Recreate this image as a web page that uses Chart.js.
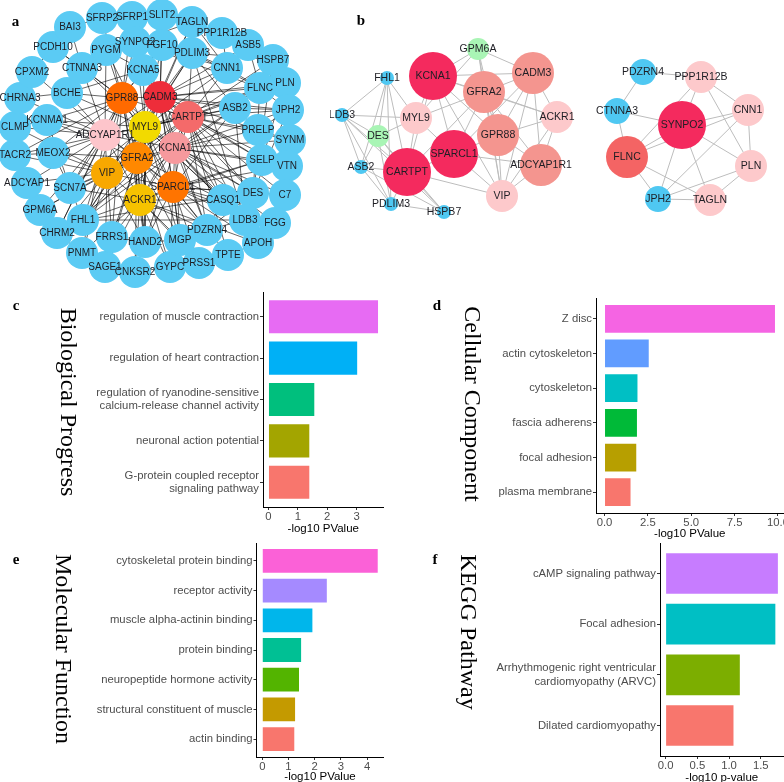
<!DOCTYPE html>
<html>
<head>
<meta charset="utf-8">
<script src="https://cdn.jsdelivr.net/npm/chart.js@4.4.1/dist/chart.umd.min.js"></script>
<style>
  html, body { margin: 0; padding: 0; background: #fff; }
  body { width: 784px; height: 782px; position: relative; overflow: hidden; }
  .panel { position: absolute; }
  .panel canvas { display: block; }
</style>
</head>
<body>
<div class="panel" style="left:0;top:0"><canvas id="netA" width="330" height="290"></canvas></div>
<div class="panel" style="left:330px;top:0"><canvas id="netB" width="454" height="290"></canvas></div>
<div class="panel" style="left:0;top:268px"><canvas id="barC" width="392" height="268"></canvas></div>
<div class="panel" style="left:392px;top:270px"><canvas id="barD" width="430" height="271"></canvas></div>
<div class="panel" style="left:0;top:520px"><canvas id="barE" width="392" height="264"></canvas></div>
<div class="panel" style="left:392px;top:520px"><canvas id="barF" width="430" height="265"></canvas></div>

<script>
// ---------- panel a: PPI network of DEGs (layout coordinates) ----------
const aNames = [
  'SFRP2','SFRP1','SLIT2','TAGLN','PPP1R12B','ASB5','HSPB7','PLN','JPH2','SYNM','VTN','C7','FGG','APOH',
  'TPTE','PRSS1','GYPC','CNKSR2','SAGE1','PNMT','CHRM2','GPM6A','ADCYAP1','TACR2','CLMP','CHRNA3','CPXM2',
  'PCDH10','BAI3',
  'PYGM','SYNPO2','FGF10','PDLIM3','CNN1','FLNC','ASB2','PRELP','SELP','DES','CASQ1','LDB3','PDZRN4','MGP',
  'HAND2','FRRS1','FHL1','SCN7A','MEOX2','KCNMA1','BCHE','CTNNA3','KCNA5',
  'GPR88','CADM3','CARTPT','MYL9','ADCYAP1R1','KCNA1','GFRA2','VIP','SPARCL1','ACKR1'
];
const aX = [102,132,162,192,222,248,273,285,288,290,287,285,275,258,
  228,199,170,135,105,82,57,40,27,15,15,20,32,
  53,70,
  106,135,162,192,227,260,235,258,262,253,223,245,207,180,
  145,112,83,70,53,47,67,82,143,
  122,160,188,145,105,175,137,107,173,140];
const aY = [18,17,15,22,33,45,60,83,110,140,166,195,223,243,
  255,263,267,272,267,253,233,210,183,155,127,98,72,
  47,27,
  50,42,45,53,68,88,108,130,160,193,200,220,230,240,
  242,237,220,188,153,120,93,68,70,
  98,97,117,127,135,148,158,173,187,200];
const aHubs = ['GPR88','CADM3','CARTPT','MYL9','ADCYAP1R1','KCNA1','GFRA2','VIP','SPARCL1','ACKR1'];
const aEdges = [
  'GPR88: KCNA5 PYGM CTNNA3 BCHE KCNMA1 SFRP2 SFRP1 SYNPO2 FGF10 MEOX2 SCN7A FHL1 FRRS1 HAND2 CADM3 MYL9 ADCYAP1R1 GFRA2 VIP ACKR1 SPARCL1 CARTPT KCNA1 CHRM2 TACR2 PCDH10',
  'CADM3: KCNA5 FGF10 PDLIM3 CNN1 SLIT2 TAGLN ASB2 FLNC PRELP SELP CASQ1 DES MGP PDZRN4 MYL9 CARTPT KCNA1 GFRA2 SPARCL1 VIP ACKR1 ADCYAP1R1 PLN JPH2 ASB5',
  'CARTPT: ASB2 FLNC CNN1 PDLIM3 HSPB7 JPH2 PLN SYNM PRELP SELP VTN DES CASQ1 LDB3 PDZRN4 MYL9 KCNA1 SPARCL1 GFRA2 ACKR1 VIP ADCYAP1R1 FHL1 TPTE C7',
  'MYL9: SYNPO2 PYGM KCNA5 PDLIM3 CNN1 FLNC ASB2 DES LDB3 CASQ1 FHL1 HAND2 MGP KCNA1 GFRA2 VIP SPARCL1 ACKR1 ADCYAP1R1 SCN7A KCNMA1 BCHE TAGLN CTNNA3',
  'ADCYAP1R1: KCNMA1 MEOX2 BCHE CTNNA3 CLMP TACR2 ADCYAP1 CHRNA3 SCN7A GPM6A CHRM2 PNMT GFRA2 VIP ACKR1 KCNA1 SPARCL1 PYGM CPXM2',
  'KCNA1: SELP PRELP ASB2 SYNM VTN DES CASQ1 LDB3 PDZRN4 MGP FGG C7 APOH GFRA2 SPARCL1 VIP ACKR1 HAND2 KCNA5 CHRM2 JPH2',
  'GFRA2: SCN7A FHL1 FRRS1 HAND2 MGP PDZRN4 MEOX2 KCNMA1 VIP ACKR1 SPARCL1 CASQ1 GPM6A CNKSR2 SAGE1 GYPC FGF10',
  'VIP: SCN7A MEOX2 FHL1 GPM6A CHRM2 ADCYAP1 PNMT FRRS1 HAND2 ACKR1 SPARCL1 TACR2 CLMP SAGE1',
  'SPARCL1: CASQ1 DES LDB3 PDZRN4 MGP HAND2 TPTE APOH FGG PRSS1 GYPC ACKR1 SELP C7 VTN ASB2',
  'ACKR1: HAND2 MGP FRRS1 FHL1 SCN7A CNKSR2 GYPC SAGE1 PDZRN4 CASQ1 PRSS1 PNMT APOH SELP',
  'FLNC: HSPB7 PLN ASB2 CNN1 SYNPO2 DES ASB5 JPH2 PDLIM3',
  'ASB5: HSPB7 PLN TAGLN', 'PLN: JPH2 SELP HSPB7', 'JPH2: ASB2 DES PRELP',
  'CNN1: PDLIM3 TAGLN PPP1R12B SYNPO2', 'SYNPO2: PDLIM3 TAGLN PYGM', 'PCDH10: CTNNA3 CPXM2',
  'CHRNA3: CPXM2 CLMP BCHE', 'CLMP: KCNMA1', 'GPM6A: CHRM2 ADCYAP1', 'CHRM2: PNMT FHL1', 'PNMT: SAGE1',
  'FGG: APOH LDB3', 'APOH: TPTE', 'DES: LDB3 CASQ1 PDZRN4', 'LDB3: PDZRN4 ASB2', 'C7: VTN',
  'SELP: VTN PRELP', 'PRELP: SYNM ASB2', 'SYNM: VTN', 'SFRP2: SFRP1 BAI3', 'SFRP1: SLIT2',
  'CASQ1: PDZRN4', 'HAND2: MGP FRRS1', 'MGP: GYPC', 'GYPC: PRSS1 CNKSR2', 'PRSS1: TPTE', 'FRRS1: SAGE1',
  'SCN7A: FHL1 KCNMA1 MEOX2', 'MEOX2: TACR2', 'CTNNA3: BAI3', 'KCNA5: FGF10 PYGM BCHE', 'SLIT2: FGF10',
  'TACR2: ADCYAP1', 'PDLIM3: LDB3 HSPB7 ASB2 FHL1', 'HSPB7: ASB2 DES', 'FHL1: DES LDB3 ASB2'
];

// ---------- panel b: two modules ----------
const bNames = ['GPM6A','KCNA1','CADM3','GFRA2','FHL1','LDB3','MYL9','ACKR1','DES','GPR88','ASB2','SPARCL1',
  'CARTPT','ADCYAP1R1','VIP','PDLIM3','HSPB7',
  'PDZRN4','PPP1R12B','CTNNA3','SYNPO2','CNN1','FLNC','PLN','JPH2','TAGLN'];
const bX = [478,433,533,484,387,342,416,557,378,498,361,454,407,541,502,391,444,
  643,701,617,682,748,627,751,658,710];
const bY = [49,76,73,92,78,115,118,117,136,135,167,154,172,165,196,204,212,
  72,77,111,125,110,157,166,199,200];
const bRank = [2,6,4,4,0,0,3,3,2,4,0,6,6,4,3,0,0,
  1,3,1,6,3,5,3,1,3];
const bEdges = [
  'GPM6A: KCNA1 GFRA2 CADM3 MYL9 VIP GPR88',
  'KCNA1: CADM3 GFRA2 ACKR1 GPR88 SPARCL1 CARTPT MYL9 VIP',
  'FHL1: LDB3 DES ASB2 PDLIM3 MYL9 CARTPT',
  'LDB3: MYL9 DES ASB2 PDLIM3 HSPB7 CARTPT',
  'DES: ASB2 PDLIM3 HSPB7 MYL9 CARTPT',
  'ASB2: PDLIM3 HSPB7 CARTPT', 'PDLIM3: HSPB7 CARTPT', 'HSPB7: CARTPT',
  'CARTPT: MYL9 SPARCL1 VIP GFRA2',
  'MYL9: GFRA2 SPARCL1',
  'SPARCL1: GFRA2 GPR88 ADCYAP1R1 VIP CADM3',
  'GFRA2: CADM3 ACKR1 GPR88 ADCYAP1R1 VIP',
  'CADM3: ACKR1 GPR88 ADCYAP1R1 VIP',
  'ACKR1: GPR88 ADCYAP1R1 VIP', 'GPR88: ADCYAP1R1 VIP', 'ADCYAP1R1: VIP',
  'PDZRN4: PPP1R12B CTNNA3', 'CTNNA3: SYNPO2 FLNC',
  'PPP1R12B: SYNPO2 CNN1 PLN FLNC',
  'SYNPO2: CNN1 FLNC JPH2 TAGLN PLN',
  'CNN1: PLN FLNC JPH2', 'FLNC: JPH2 TAGLN', 'JPH2: TAGLN PLN', 'PLN: TAGLN'
];

// ---------- panels c-f: enrichment bars ----------
const cTerms = ['regulation of muscle contraction', 'regulation of heart contraction',
  ['regulation of ryanodine-sensitive', 'calcium-release channel activity'],
  'neuronal action potential', ['G-protein coupled receptor', 'signaling pathway']];
const cValues = [3.73, 3.02, 1.56, 1.39, 1.39];
const cTicks = [0, 1, 2, 3];
const cTickLabels = ['0', '1', '2', '3'];

const dTerms = ['Z disc', 'actin cytoskeleton', 'cytoskeleton', 'fascia adherens', 'focal adhesion', 'plasma membrane'];
const dValues = [9.83, 2.55, 1.9, 1.87, 1.83, 1.5];
const dTicks = [0, 2.5, 5, 7.5, 10];
const dTickLabels = ['0.0', '2.5', '5.0', '7.5', '10.0'];

const eTerms = ['cytoskeletal protein binding', 'receptor activity', 'muscle alpha-actinin binding', 'protein binding',
  'neuropeptide hormone activity', 'structural constituent of muscle', 'actin binding'];
const eValues = [4.4, 2.46, 1.91, 1.48, 1.4, 1.25, 1.22];
const eTicks = [0, 1, 2, 3, 4];
const eTickLabels = ['0', '1', '2', '3', '4'];

const fTerms = ['cAMP signaling pathway', 'Focal adhesion',
  ['Arrhythmogenic right ventricular', 'cardiomyopathy (ARVC)'], 'Dilated cardiomyopathy'];
const fValues = [1.77, 1.73, 1.17, 1.07];
const fTicks = [0, 0.5, 1, 1.5];
const fTickLabels = ['0.0', '0.5', '1.0', '1.5'];

// ---------- styling ----------
const SANS = '"Liberation Sans", Arial, sans-serif';
const SERIF = '"Liberation Serif", "Times New Roman", serif';
const RING_BLUE = '#5BCBF4';
const hubColor = {
  GPR88: '#FF6A00', CADM3: '#EE2D3A', CARTPT: '#F46A6A', MYL9: '#F2DA00', ADCYAP1R1: '#FDC5CB',
  KCNA1: '#F6999D', GFRA2: '#FF8800', VIP: '#F8A800', SPARCL1: '#FF7400', ACKR1: '#F6C200'
};
const rankRadius = [7, 13, 11, 16, 21, 21, 24];
const rankColor = ['#4FC8F2', '#4FC8F2', '#A9F5B5', '#FDC9CB', '#F4958F', '#F46464', '#F42A5E'];

Chart.defaults.font.family = SANS;

function parseEdges(list) {
  const out = [];
  list.forEach(s => {
    const [from, rest] = s.split(':');
    rest.trim().split(/\s+/).forEach(to => out.push([from.trim(), to]));
  });
  return out;
}

function decoPlugin(letter, lx, ly, title, tx, ty) {
  return {
    id: 'deco',
    afterDraw(chart) {
      const ctx = chart.ctx;
      ctx.save();
      ctx.fillStyle = '#000';
      ctx.textAlign = 'center';
      ctx.textBaseline = 'middle';
      ctx.font = 'bold 15px ' + SERIF;
      ctx.fillText(letter, lx, ly);
      if (title) {
        ctx.translate(tx, ty);
        ctx.rotate(Math.PI / 2);
        ctx.font = '24px ' + SERIF;
        ctx.fillText(title, 0, 0);
      }
      ctx.restore();
    }
  };
}

function netChart(id, names, xs, ys, radii, colors, edges, xr, yr, edgeColor, edgeWidth, fontPx, deco) {
  const idx = {};
  names.forEach((n, i) => { idx[n] = i; });
  const pts = names.map((n, i) => ({ x: xs[i], y: ys[i] }));
  const seg = [];
  parseEdges(edges).forEach(([a, b]) => {
    const p = pts[idx[a]], q = pts[idx[b]];
    seg.push({ x: p.x, y: p.y }, { x: q.x, y: q.y }, { x: null, y: null });
  });
  const labels = {
    id: 'nodeLabels',
    afterDatasetsDraw(chart) {
      const ctx = chart.ctx;
      const meta = chart.getDatasetMeta(0);
      ctx.save();
      ctx.font = fontPx + 'px ' + SANS;
      ctx.fillStyle = '#1E1E24';
      ctx.textAlign = 'center';
      ctx.textBaseline = 'middle';
      meta.data.forEach((el, i) => ctx.fillText(names[i], el.x, el.y + 0.5));
      ctx.restore();
    }
  };
  return new Chart(document.getElementById(id), {
    type: 'scatter',
    data: {
      datasets: [
        { data: pts, pointRadius: radii, pointHoverRadius: radii, backgroundColor: colors, borderWidth: 0, clip: false },
        { type: 'line', data: seg, borderColor: edgeColor, borderWidth: edgeWidth, pointRadius: 0,
          spanGaps: false, fill: false, tension: 0, clip: false }
      ]
    },
    options: {
      responsive: false, animation: false, events: [],
      layout: { padding: 0, autoPadding: false },
      plugins: { legend: { display: false }, tooltip: { enabled: false } },
      scales: {
        x: { type: 'linear', min: xr[0], max: xr[1], display: false },
        y: { type: 'linear', min: yr[0], max: yr[1], reverse: true, display: false }
      }
    },
    plugins: [labels, deco]
  });
}

function barChart(id, terms, values, colors, ticks, tickLabels, xTitle, box, deco) {
  const M = Math.max(...values);
  const tickFont = { family: SANS, size: 11.3, lineHeight: 1.2 };
  return new Chart(document.getElementById(id), {
    type: 'bar',
    data: {
      datasets: [{
        data: values.map((v, i) => ({ x: v, y: i + 1 })),
        backgroundColor: colors, borderWidth: 0,
        categoryPercentage: 1, barPercentage: 0.8
      }]
    },
    options: {
      indexAxis: 'y',
      responsive: false, animation: false, events: [],
      layout: { padding: { top: box.top, right: box.w - box.right, bottom: 0, left: 0 } },
      plugins: { legend: { display: false }, tooltip: { enabled: false } },
      scales: {
        x: {
          type: 'linear', min: -0.05 * M, max: 1.05 * M, offset: false,
          afterBuildTicks: s => { s.ticks = ticks.map(v => ({ value: v })); },
          afterFit: s => { s.height = box.h - box.bottom; },
          ticks: { callback: (v, i) => tickLabels[i], color: '#4D4D4D', font: tickFont,
            padding: 0, maxRotation: 0, autoSkip: false },
          grid: { display: true, drawOnChartArea: false, drawTicks: true, tickLength: 3, color: '#333', offset: false },
          border: { display: true, color: '#000', width: 1 },
          title: { display: true, text: xTitle, color: '#000', font: { family: SANS, size: 11.5 }, padding: 0 }
        },
        y: {
          type: 'linear', reverse: true, min: 0.4, max: terms.length + 0.6, offset: false,
          afterBuildTicks: s => { s.ticks = terms.map((t, i) => ({ value: i + 1 })); },
          afterFit: s => { s.width = box.left; },
          ticks: { callback: (v, i) => terms[i], color: '#4D4D4D', font: tickFont, padding: 1, autoSkip: false },
          grid: { display: true, drawOnChartArea: false, drawTicks: true, tickLength: 3, color: '#333', offset: false },
          border: { display: true, color: '#000', width: 1 }
        }
      }
    },
    plugins: [deco]
  });
}

// ---------- build ----------
netChart('netA', aNames, aX, aY,
  aNames.map(() => 16),
  aNames.map(n => hubColor[n] || RING_BLUE),
  aEdges, [0, 330], [0, 290], 'rgba(0,0,0,0.8)', 0.75, 10,
  decoPlugin('a', 15.5, 22, null));

netChart('netB', bNames, bX, bY,
  bRank.map(r => rankRadius[r]),
  bRank.map(r => rankColor[r]),
  bEdges, [330, 784], [0, 290], '#BDBDBD', 1, 10.5,
  decoPlugin('b', 31, 21, null));

barChart('barC', cTerms, cValues, ['#E76BF3', '#00B0F6', '#00BF7D', '#A3A500', '#F8766D'],
  cTicks, cTickLabels, '-log10 PValue',
  { w: 392, h: 268, left: 263, top: 24, right: 383.5, bottom: 239 },
  decoPlugin('c', 16, 38, 'Biological Progress', 67, 134));

barChart('barD', dTerms, dValues, ['#F564E3', '#619CFF', '#00BFC4', '#00BA38', '#B79F00', '#F8766D'],
  dTicks, dTickLabels, '-log10 PValue',
  { w: 430, h: 271, left: 204, top: 28, right: 391.5, bottom: 243 },
  decoPlugin('d', 45, 36, 'Cellular Component', 79, 134));

barChart('barE', eTerms, eValues, ['#FB61D7', '#A58AFF', '#00B6EB', '#00C094', '#53B400', '#C49A00', '#F8766D'],
  eTicks, eTickLabels, '-log10 PValue',
  { w: 392, h: 264, left: 256.5, top: 23, right: 383.5, bottom: 237 },
  decoPlugin('e', 16, 40, 'Molecular Function', 62.5, 129));

barChart('barF', fTerms, fValues, ['#C77CFF', '#00BFC4', '#7CAE00', '#F8766D'],
  fTicks, fTickLabels, '-log10 p-value',
  { w: 430, h: 265, left: 268, top: 23, right: 391.5, bottom: 236 },
  decoPlugin('f', 43, 40, 'KEGG Pathway', 75, 112));
</script>
</body>
</html>
